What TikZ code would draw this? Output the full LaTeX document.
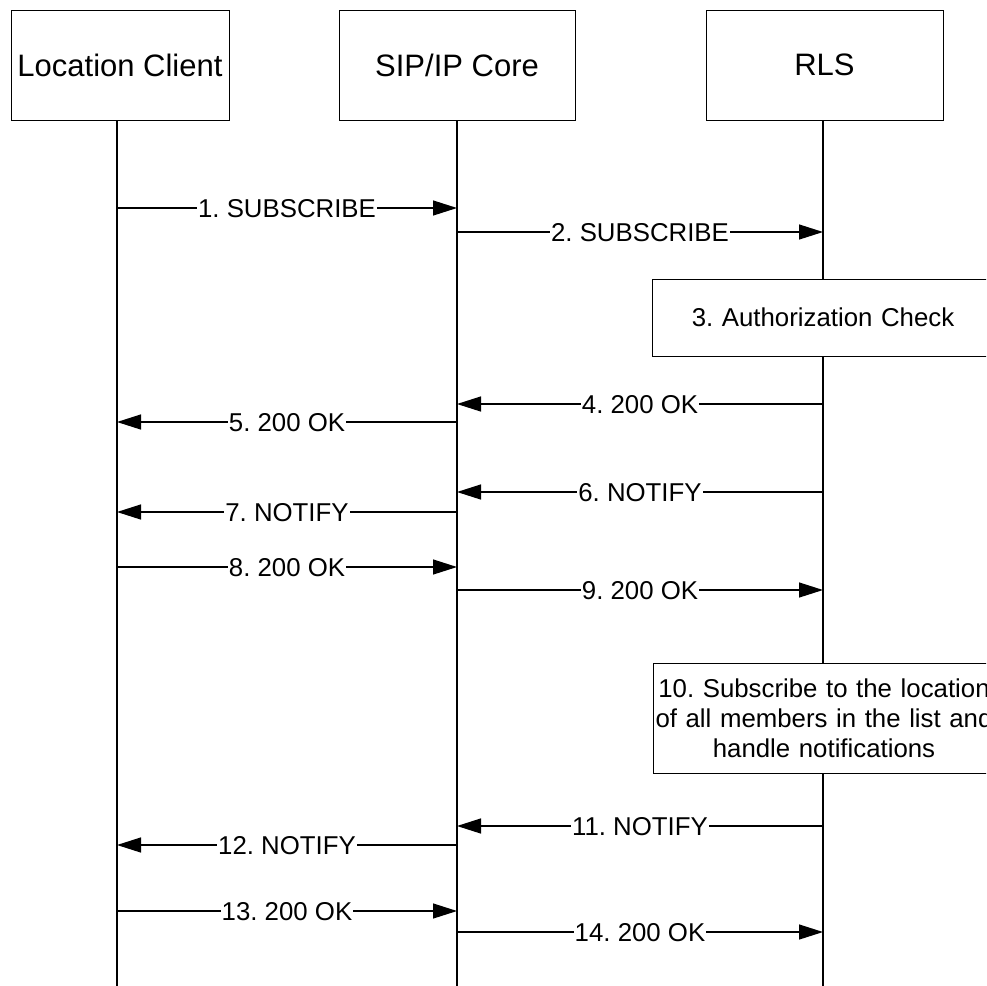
\documentclass[tikz,border=0pt]{standalone}
\usepackage{fontspec}
\setmainfont{Liberation Sans}
\usetikzlibrary{arrows.meta}
\begin{document}
\frenchspacing
\begin{tikzpicture}[x=1pt,y=-1pt,
  every node/.style={font=\fontsize{25.8}{30}\selectfont\frenchspacing},
  actor/.style={draw, line width=1pt, minimum width=#1, minimum height=110pt, inner sep=0pt, font=\fontsize{31}{36}\selectfont},
  life/.style={line width=1.3pt},
  msg/.style={line width=1.3pt, -{Triangle[length=24pt,width=15pt]}},
  lbl/.style={fill=white, inner xsep=1pt, inner ysep=0pt, text height=18.5pt, text depth=0pt},
  act/.style={draw, fill=white, line width=1pt, inner sep=0pt, text width=342pt, align=center}
]
\useasboundingbox (0,0) rectangle (986,986);
\fill[white] (0,0) rectangle (986,986);
\clip (0,0) rectangle (986,986);

% actors
\node[actor=218pt] (lc) at (120,65) {Location Client};
\node[actor=236pt] (sip) at (457,65) {SIP/IP Core};
\node[actor=237pt] (rls) at (824.5,65) {RLS};

% lifelines
\coordinate (lcT) at (117,120);  \coordinate (lcB) at (117,990);
\coordinate (sipT) at (457,120); \coordinate (sipB) at (457,990);
\coordinate (rlsT) at (823,120); \coordinate (rlsB) at (823,990);
\draw[life] (lcT) -- (lcB);
\draw[life] (sipT) -- (sipB);
\draw[life] (rlsT) -- (rlsB);

% message anchor points
\foreach \n/\y in {1/208,2/232,4/404,5/422,6/492,7/512,8/567,9/590,11/826,12/845,13/911,14/932}{
  \coordinate (a\n) at (117,\y);
  \coordinate (b\n) at (457,\y);
  \coordinate (c\n) at (823,\y);
}

\draw[msg] (a1) -- node[lbl]{1. SUBSCRIBE} (b1);
\draw[msg] (b2) -- node[lbl]{2. SUBSCRIBE} (c2);

\node[act, minimum height=77pt] (auth) at (823,317.5) {3. Authorization Check};

\draw[msg] (c4) -- node[lbl]{4. 200 OK} (b4);
\draw[msg] (b5) -- node[lbl]{5. 200 OK} (a5);
\draw[msg] (c6) -- node[lbl]{6. NOTIFY} (b6);
\draw[msg] (b7) -- node[lbl]{7. NOTIFY} (a7);
\draw[msg] (a8) -- node[lbl]{8. 200 OK} (b8);
\draw[msg] (b9) -- node[lbl]{9. 200 OK} (c9);

\node[act, minimum height=110pt] (subs) at (824,718) {10. Subscribe to the location\\of all members in the list and\\handle notifications};

\draw[msg] (c11) -- node[lbl]{11. NOTIFY} (b11);
\draw[msg] (b12) -- node[lbl]{12. NOTIFY} (a12);
\draw[msg] (a13) -- node[lbl]{13. 200 OK} (b13);
\draw[msg] (b14) -- node[lbl]{14. 200 OK} (c14);
\end{tikzpicture}
\end{document}
